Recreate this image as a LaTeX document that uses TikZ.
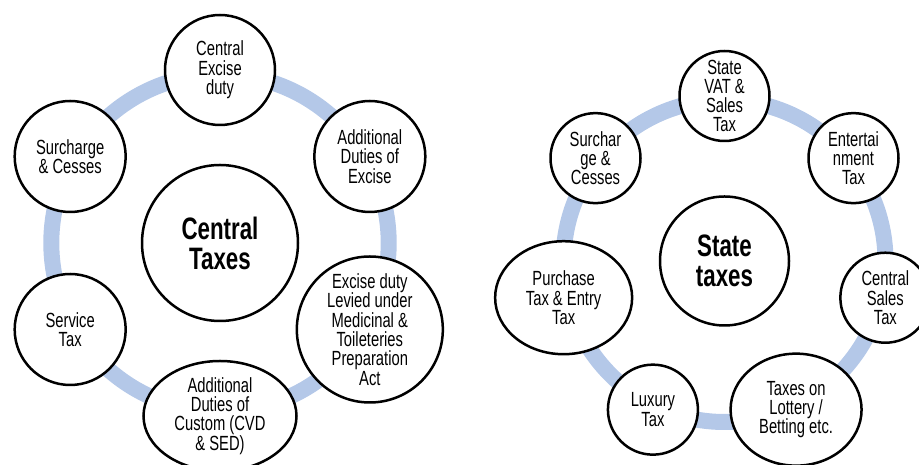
\documentclass[tikz,border=0pt]{standalone}
\usepackage{fontspec}
\setmainfont{Liberation Sans}[FakeStretch=0.72]
\usetikzlibrary{shapes.geometric}

\definecolor{ringblue}{HTML}{B4C8E8}

\tikzset{
  ring/.style={draw=ringblue, line width=16pt},
  bubble/.style={circle, draw=black, line width=2.5pt, fill=white, inner sep=0pt,
    align=center, font=\fontsize{20.5}{19.3}\selectfont},
  oval/.style={bubble, ellipse},
  hub/.style={bubble, font=\fontsize{31}{30}\selectfont\bfseries},
}

\begin{document}
\begin{tikzpicture}[x=1pt, y=1pt]
\useasboundingbox (0,0) rectangle (919,465);

% central taxes
\coordinate (lc) at (220,222);
\draw[ring] (lc) circle (168.7);
\node[hub, minimum size=156] (l0) at (lc) {Central\\Taxes};
\node[bubble, minimum size=110] (l1) at ([shift={(90:173)}]lc) {Central\\Excise\\duty};
\node[bubble, minimum size=111] (l2) at ([shift={(30:173)}]lc) {Additional\\Duties of\\Excise};
\node[bubble, minimum size=146] (l3) at ([shift={(-30:173)}]lc) {Excise duty\\Levied under\\Medicinal \&\\Toileteries\\Preparation\\Act};
\node[oval, minimum width=153, minimum height=110] (l4) at ([shift={(-90:173)}]lc) {Additional\\Duties of\\Custom (CVD\\\& SED)};
\node[bubble, minimum size=111] (l5) at ([shift={(-150:173)}]lc) {Service\\Tax};
\node[bubble, minimum size=111] (l6) at ([shift={(150:173)}]lc) {Surcharge\\\& Cesses};

% state taxes
\coordinate (rc) at (724.5,204);
\draw[ring] (rc) circle (161);
\node[hub, minimum size=129] (r0) at (rc) {State\\taxes};
\node[bubble, minimum size=90] (r1) at ([shift={(90:165)}]rc) {State\\VAT \&\\Sales\\Tax};
\node[bubble, minimum size=90] (r2) at ([shift={(38.57:165)}]rc) {Entertai\\nment\\Tax};
\node[bubble, minimum size=90] (r3) at ([shift={(-12.86:165)}]rc) {Central\\Sales\\Tax};
\node[oval, minimum width=131, minimum height=112] (r4) at ([shift={(-64.29:165)}]rc) {Taxes on\\Lottery /\\Betting etc.};
\node[bubble, minimum size=90] (r5) at ([shift={(-115.71:165)}]rc) {Luxury\\Tax};
\node[oval, minimum width=137, minimum height=113] (r6) at ([shift={(-167.14:165)}]rc) {Purchase\\Tax \& Entry\\Tax};
\node[bubble, minimum size=90] (r7) at ([shift={(141.43:165)}]rc) {Surchar\\ge \&\\Cesses};
\end{tikzpicture}
\end{document}
